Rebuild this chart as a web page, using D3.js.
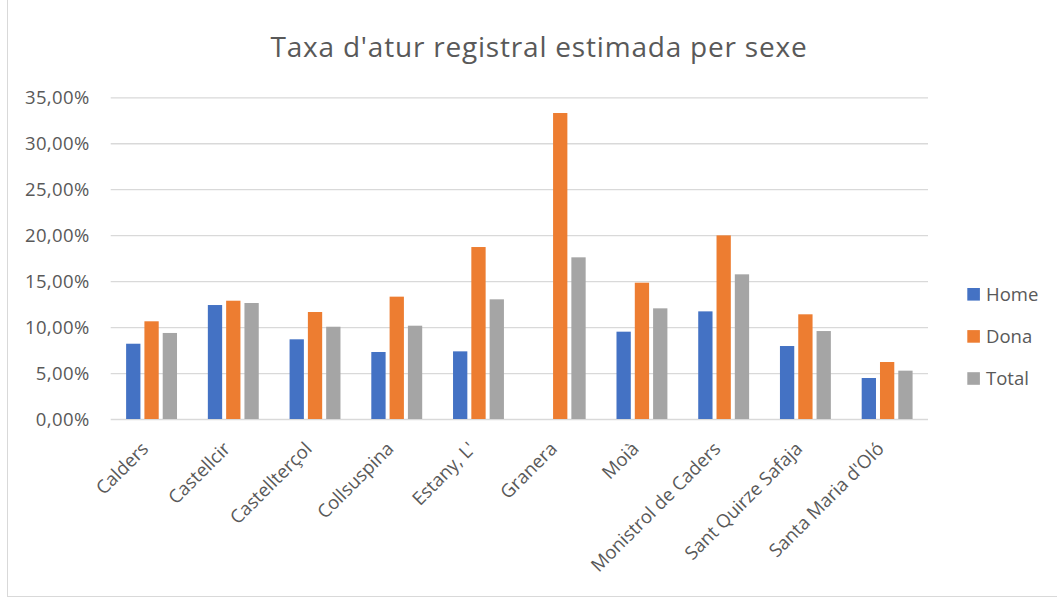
<!DOCTYPE html>
<html><head><meta charset="utf-8">
<script src="https://cdn.jsdelivr.net/npm/d3@7"></script>
<style>body{margin:0;background:#fff;} text{font-family:"Open Sans",sans-serif;fill:#595959;}</style>
</head><body><svg id="c" width="1057" height="598"></svg>
<script>
const categories = ["Calders","Castellcir","Castellterçol","Collsuspina","Estany, L'","Granera","Moià","Monistrol de Caders","Sant Quirze Safaja","Santa Maria d'Oló"];
const seriesNames = ["Home","Dona","Total"];
const home  = [8.19,12.40,8.67,7.29,7.36,0,9.50,11.71,7.94,4.46];
const dona  = [10.63,12.87,11.64,13.31,18.71,33.29,14.83,19.98,11.39,6.20];
const total = [9.36,12.62,10.04,10.15,13.02,17.59,12.04,15.74,9.57,5.26];
const yTicks = [0,5,10,15,20,25,30,35];
const colors = ["#4472C4","#ED7D31","#A5A5A5"];
const title = "Taxa d'atur registral estimada per sexe";

const svg = d3.select("#c");
svg.append("rect").attr("x",7.5).attr("y",-1).attr("width",1060).attr("height",597.5)
  .attr("fill","#fff").attr("stroke","#d9d9d9");

const L=110.7, R=928, T=97.3, B=419;
const x = d3.scaleBand().domain(categories).range([L,R]).paddingInner(0).paddingOuter(0);
const y = d3.scaleLinear().domain([0,35]).range([B,T]);
const bw = 14.3, step = 18.3;

svg.append("text").attr("x",539).attr("y",57).attr("text-anchor","middle")
  .style("font-size","28px").style("letter-spacing","0.8px").text(title);

const gy = svg.append("g").attr("transform",`translate(${L},0)`)
  .call(d3.axisLeft(y).tickValues(yTicks).tickSize(-(R-L)).tickFormat(d=>d3.format(".2f")(d).replace(".",",")+"%"));
gy.select(".domain").remove();
gy.selectAll(".tick line").attr("stroke","#d9d9d9").attr("stroke-width",1.3);
gy.selectAll(".tick text").attr("x",-21).style("font-size","18.5px").style("letter-spacing","0.4px").attr("fill","#595959").attr("dy","0.35em");

const data = [home,dona,total];
data.forEach((vals,si)=>{
  svg.append("g").selectAll("rect").data(categories).join("rect")
    .attr("x",d=>x(d)+x.bandwidth()/2 - 1.5*bw - (step-bw) + si*step)
    .attr("width",bw)
    .attr("y",(d,i)=>y(vals[i]))
    .attr("height",(d,i)=>B-y(vals[i]))
    .attr("fill",colors[si]);
});

const gx = svg.append("g").attr("transform",`translate(0,${B})`)
  .call(d3.axisBottom(x).tickSize(0));
gx.select(".domain").remove();
gx.selectAll(".tick text").style("font-size","18.5px").attr("fill","#595959")
  .attr("text-anchor","end").attr("dy",0).attr("y",0)
  .attr("transform","translate(-2,31) rotate(-45)");

const leg = svg.append("g");
seriesNames.forEach((n,i)=>{
  const cy = 294.3 + i*42.1;
  leg.append("rect").attr("x",967.3).attr("y",cy-6.3).attr("width",12.6).attr("height",12.6).attr("fill",colors[i]);
  leg.append("text").attr("x",986).attr("y",cy).attr("dy","0.35em").style("font-size","18.5px").text(n);
});
</script></body></html>
